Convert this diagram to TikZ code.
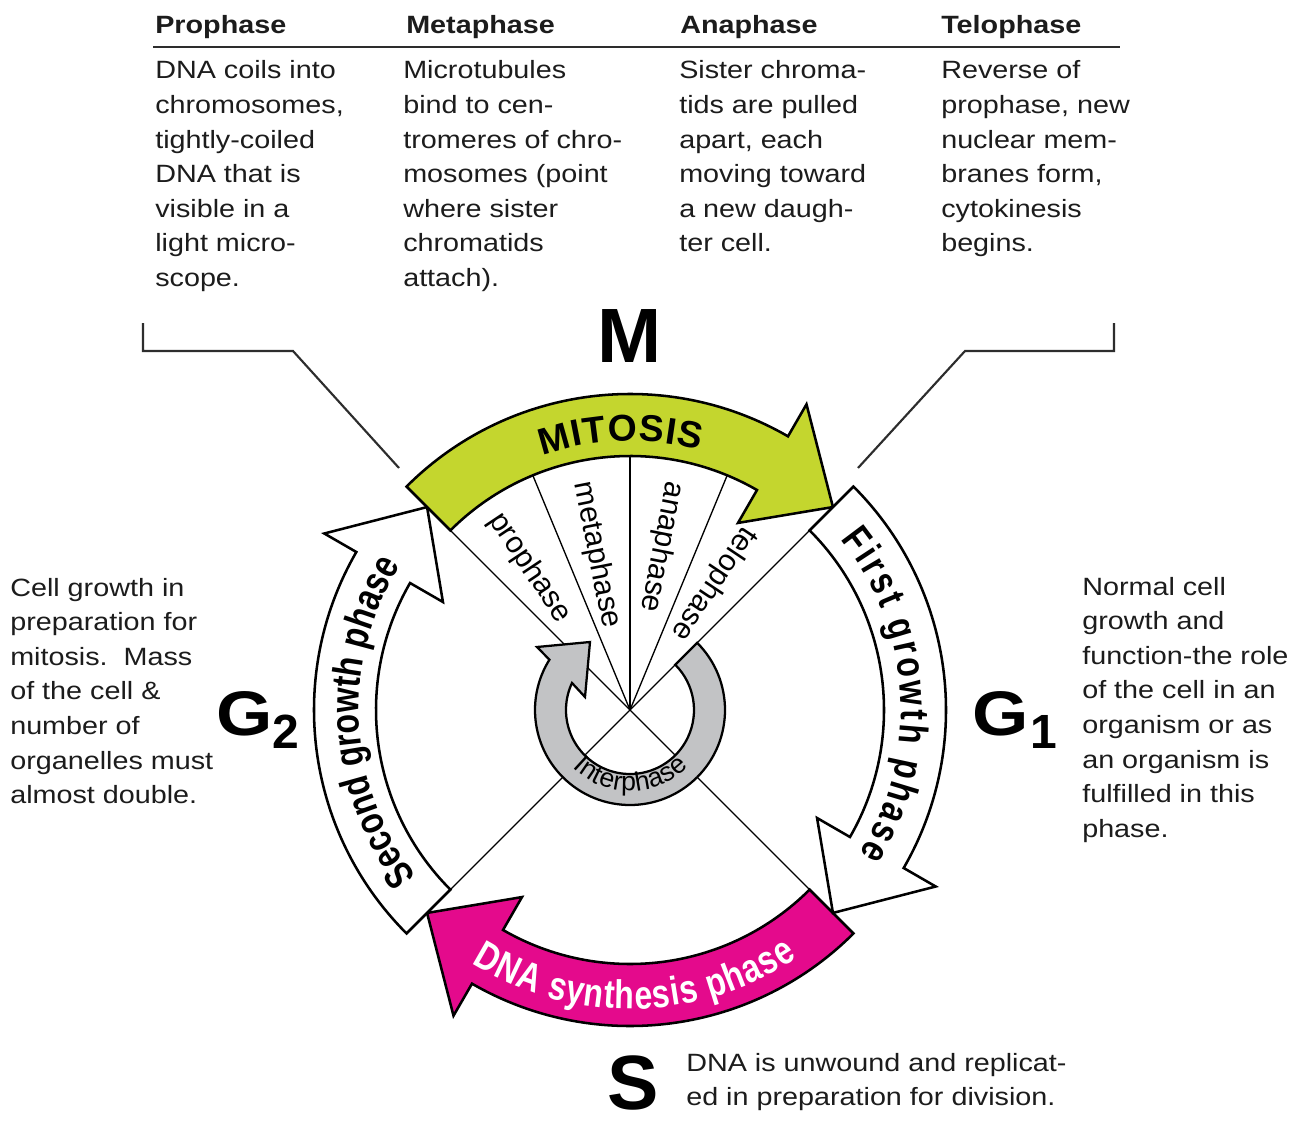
\documentclass[tikz,border=0pt]{standalone}
\usepackage{fontspec}
\setmainfont{Liberation Sans}
\newfontfamily\bodyfont[FakeStretch=1.15]{Liberation Sans}
\newfontfamily\arcfont[FakeStretch=0.8]{Liberation Sans}
\usetikzlibrary{decorations.text}
\definecolor{mitgreen}{RGB}{196,214,46}
\definecolor{smagenta}{RGB}{228,10,140}
\definecolor{intgray}{RGB}{194,195,197}
\definecolor{ink}{RGB}{28,28,28}
\definecolor{lead}{RGB}{45,45,45}
\newcommand\bodysize{\bodyfont\fontsize{18.75}{25.95}\selectfont}
\newcommand\cyclearrow[3]{%
  \pgfmathsetmacro\hb{#3+15}%
  \draw[#1] (#2:316) arc[start angle=#2, end angle=\hb, radius=316]
    -- (\hb:353) -- (#3:287) -- (\hb:216) -- (\hb:254)
    arc[start angle=\hb, end angle=#2, radius=254] -- cycle;}
\tikzset{
  phasearrow/.style={draw=black, line width=1.9pt, line join=miter},
  radial/.style={draw=black, line width=1pt},
  leader/.style={draw=lead, line width=1.6pt},
  bodytext/.style={anchor=base west, inner sep=0pt, text=ink, font=\bodysize},
  headtext/.style={anchor=base west, inner sep=0pt, text=ink, font=\bodysize\bfseries},
  phaselabel/.style={inner sep=0pt, text=black, font=\fontsize{22.5}{23}\selectfont},
  biglabel/.style={inner sep=0pt, text=black, font=\bfseries\fontsize{57.75}{58}\selectfont},
  glabel/.style={anchor=base west, inner sep=0pt, text=black, font=\bodyfont\bfseries\fontsize{47.25}{48}\selectfont},
  gsub/.style={anchor=base west, inner sep=0pt, text=black, font=\bfseries\fontsize{36}{36}\selectfont},
}
\begin{document}
\begin{tikzpicture}[x=0.75pt, y=0.75pt]
\useasboundingbox (0,0) rectangle (1307,-1124);
\fill[white] (0,0) rectangle (1307,-1124);

% ---- top table ----
\coordinate (ruleL) at (153,-47.5);
\coordinate (ruleR) at (1120,-47.5);
\draw[lead, line width=1.5pt] (ruleL) -- (ruleR);
\node[headtext] (hpro) at (155,-34) {Prophase};
\node[headtext] (hmet) at (406,-34) {Metaphase};
\node[headtext] (hana) at (680,-34) {Anaphase};
\node[headtext] (htel) at (941,-34) {Telophase};

\node[bodytext] (tpro) at (155,-79) {\begin{tabular}[t]{@{}l@{}}DNA coils into\\ chromosomes,\\ tightly-coiled\\ DNA that is\\ visible in a\\ light micro-\\ scope.\end{tabular}};
\node[bodytext] (tmet) at (403,-79) {\begin{tabular}[t]{@{}l@{}}Microtubules\\ bind to cen-\\ tromeres of chro-\\ mosomes (point\\ where sister\\ chromatids\\ attach).\end{tabular}};
\node[bodytext] (tana) at (679,-79) {\begin{tabular}[t]{@{}l@{}}Sister chroma-\\ tids are pulled\\ apart, each\\ moving toward\\ a new daugh-\\ ter cell.\end{tabular}};
\node[bodytext] (ttel) at (941,-79) {\begin{tabular}[t]{@{}l@{}}Reverse of\\ prophase, new\\ nuclear mem-\\ branes form,\\ cytokinesis\\ begins.\end{tabular}};

% ---- side texts ----
\node[bodytext] (tg2) at (10,-596) {\begin{tabular}[t]{@{}l@{}}Cell growth in\\ preparation for\\ mitosis.\ \ Mass\\ of the cell \&\\ number of\\ organelles must\\ almost double.\end{tabular}};
\node[bodytext] (tg1) at (1082,-595) {\begin{tabular}[t]{@{}l@{}}Normal cell\\ growth and\\ function-the role\\ of the cell in an\\ organism or as\\ an organism is\\ fulfilled in this\\ phase.\end{tabular}};
\node[bodytext] (ts) at (686,-1071) {\begin{tabular}[t]{@{}l@{}}DNA is unwound and replicat-\\ ed in preparation for division.\end{tabular}};

% ---- big labels ----
\node[biglabel, anchor=base] (M) at (630,-362) {M};
\node[glabel] (G2) at (216,-735) {G};
\node[gsub] (G2s) at (272,-748) {2};
\node[glabel] (G1) at (972,-735) {G};
\node[gsub] (G1s) at (1030,-748) {1};
\node[biglabel, anchor=base west] (S) at (607,-1109) {S};

% ---- leader lines ----
\coordinate (la) at (143,-323);
\coordinate (lb) at (143,-351);
\coordinate (lc) at (293,-351);
\coordinate (ld) at (399,-468);
\coordinate (ra) at (1114,-323);
\coordinate (rb) at (1114,-351);
\coordinate (rc) at (965,-351);
\coordinate (rd) at (858,-468);
\draw[leader] (la) -- (lb) -- (lc) -- (ld);
\draw[leader] (ra) -- (rb) -- (rc) -- (rd);

% ---- cycle ----
\begin{scope}[shift={(630,-710)}]
  \coordinate (O) at (0,0);
  \foreach \a in {135,112.5,90,67.5,45,225,315}
    \draw[radial] (O) -- (\a:254);
  % interphase ring
  \draw[phasearrow, fill=intgray, line width=1.7pt]
    (45:95) arc[start angle=45, end angle=-212, radius=95]
    -- (-93,63) -- (-40,68) -- (-45,13) -- (155:64)
    arc[start angle=-205, end angle=45, radius=64] -- cycle;
  \path[decorate, decoration={text along path, text={|\fontsize{20}{20}\selectfont|Interphase}, text align=fit to path}]
    (225:81) arc[start angle=225, end angle=316, radius=81];
  % phase labels
  \node[phaselabel, rotate=-56.25] (lpro) at (125.2:174) {prophase};
  \node[phaselabel, rotate=-78.75] (lmet) at (102.2:158.6) {metaphase};
  \node[phaselabel, rotate=-101.25] (lana) at (79:166) {anaphase};
  \node[phaselabel, rotate=-123.75] (ltel) at (56.6:151.6) {telophase};
  % big arrows
  \cyclearrow{phasearrow, fill=smagenta}{315}{225}
  \cyclearrow{phasearrow, fill=white}{225}{135}
  \cyclearrow{phasearrow, fill=mitgreen}{135}{45}
  \cyclearrow{phasearrow, fill=white}{45}{-45}
  % arc texts
  \path[decorate, decoration={text along path, text={|\bfseries\fontsize{28}{28}\selectfont|MITOSIS}, text align=fit to path}]
    (109:269) arc[start angle=109, end angle=75, radius=269];
  \path[decorate, decoration={text along path, text={|\arcfont\bfseries\fontsize{30}{30}\selectfont|First growth phase}, text align=fit to path}]
    (39:271) arc[start angle=39, end angle=-32, radius=271];
  \path[decorate, decoration={text along path, text={|\arcfont\bfseries\fontsize{30}{30}\selectfont|Second growth phase}, text align=fit to path}]
    (218:271) arc[start angle=218, end angle=149, radius=271];
  \path[decorate, decoration={text along path, text color=white, text={|\arcfont\bfseries\fontsize{30}{30}\selectfont|DNA synthesis phase}, text align=fit to path}]
    (238:299) arc[start angle=238, end angle=304, radius=299];
\end{scope}
\end{tikzpicture}
\end{document}
